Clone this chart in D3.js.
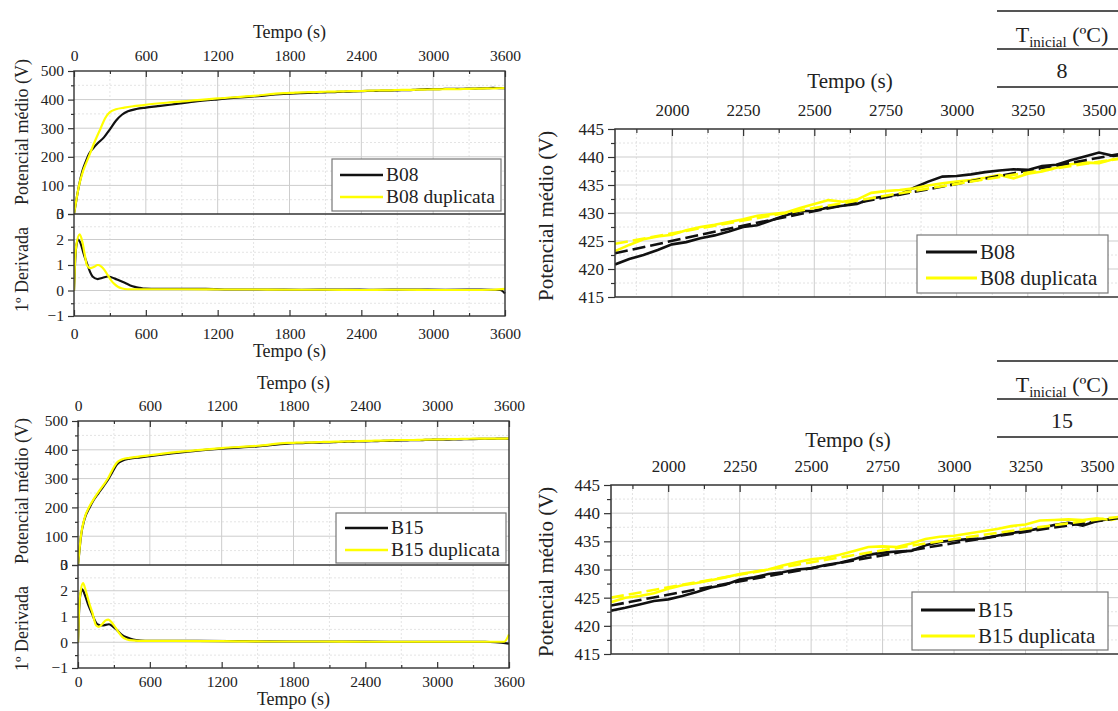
<!DOCTYPE html>
<html>
<head>
<meta charset="utf-8">
<script src="https://cdn.jsdelivr.net/npm/d3@7"></script>
<style>
  body { margin: 0; background: #fff; }
  svg { display: block; }
  text { font-family: "Liberation Serif", "Times New Roman", serif; fill: #222; }
</style>
</head>
<body>
<svg id="chart" width="1118" height="711"></svg>
<script>
// ---------- tick values ----------
const tempoTicksFull = [0, 600, 1200, 1800, 2400, 3000, 3600];
const tempoMinorFull = [300, 900, 1500, 2100, 2700, 3300];
const potTicksFull = [0, 100, 200, 300, 400, 500];
const potMinorFull = [50, 150, 250, 350, 450];
const derivTicks = [-1, 0, 1, 2, 3];
const derivMinor = [-0.5, 0.5, 1.5, 2.5];
const tempoTicksZoom = [2000, 2250, 2500, 2750, 3000, 3250, 3500];
const tempoMinorZoom = [1875, 2125, 2375, 2625, 2875, 3125, 3375, 3625];
const potTicksZoom = [415, 420, 425, 430, 435, 440, 445];
const potMinorZoom = [417.5, 422.5, 427.5, 432.5, 437.5, 442.5];

// ---------- series: first 30 min of the run, [tempo (s), potencial (V)] ----------
const b08Inicio = [[0,0],[20,50],[42,100],[70,150],[100,185],[125,210],[160,230],[200,248],[250,268],[300,296],[350,326],[400,347],[450,359],[520,367],[600,372],[700,377],[800,382],[1000,393],[1200,401],[1500,411],[1750,419.5]];
const b08dupInicio = [[0,0],[20,50],[42,100],[80,155],[123,200],[170,250],[223,300],[260,335],[300,356],[350,366],[420,372],[500,377],[600,382],[800,390],[1000,397],[1200,404],[1500,413],[1750,422.5]];
const b15Inicio = [[0,0],[12,50],[25,100],[55,160],[97,200],[130,225],[172,250],[215,275],[256,300],[290,325],[326,350],[370,362],[430,369],[520,374],[600,378],[800,388],[1000,397],[1200,404],[1500,412],[1750,421.7]];
const b15dupInicio = [[0,0],[12,52],[25,103],[55,163],[95,203],[130,228],[170,253],[212,277],[252,302],[287,330],[322,354],[365,366],[430,372],[520,377],[600,381],[800,391],[1000,399],[1200,406],[1500,414],[1750,423.8]];

// ---------- series: last 30 min, sampled every 50 s ----------
const tempoTardio = [1800,1850,1900,1950,2000,2050,2100,2150,2200,2250,2300,2350,2400,2450,2500,2550,2600,2650,2700,2750,2800,2850,2900,2950,3000,3050,3100,3150,3200,3250,3300,3350,3400,3450,3500,3550,3600];
const b08Tardio = [420.8,421.8,422.5,423.4,424.4,424.8,425.5,426.0,426.7,427.5,427.8,428.7,429.6,430.3,430.4,431.0,431.3,431.6,432.6,433.0,433.3,434.5,435.6,436.5,436.6,436.9,437.3,437.6,437.8,437.7,438.4,438.6,439.4,440.1,440.8,440.2,440.4];
const b08dupTardio = [423.2,424.3,425.3,425.8,426.1,426.9,427.5,427.9,428.4,428.9,429.5,429.8,430.1,430.9,431.6,432.3,432.0,432.4,433.6,433.9,434.1,434.4,434.9,435.3,435.6,435.9,436.3,436.8,436.2,437.0,437.4,438.1,438.7,439.0,438.9,439.6,439.8];
const b15Tardio = [422.7,423.2,423.8,424.4,424.7,425.3,426.0,426.8,427.3,428.2,428.6,429.2,429.5,430.0,430.2,430.8,431.2,431.8,432.6,433.0,433.2,433.3,434.3,434.9,435.2,435.4,435.5,436.0,436.5,436.8,437.3,437.9,438.3,437.8,438.6,439.0,439.1];
const b15dupTardio = [424.2,425.0,425.3,425.8,426.6,427.2,427.6,428.1,428.6,429.2,429.6,430.0,430.7,431.3,431.8,432.1,432.6,433.3,434.0,434.1,434.0,434.6,435.4,435.8,436.0,436.4,436.8,437.2,437.7,438.0,438.7,438.8,438.9,438.8,439.1,438.8,439.4];

// ---------- fitted trends (dashed) ----------
const ajusteTempo = [1800, 2400, 3000, 3600];
const b08Ajuste = [422.8, 429.3, 435.2, 440.8];
const b08dupAjuste = [424.5, 430.0, 435.2, 439.9];
const b15Ajuste = [423.6, 429.3, 434.7, 439.3];
const b15dupAjuste = [425.0, 430.4, 435.4, 439.5];

// ---------- first derivative, [tempo (s), dV/dt] ----------
const b08Derivada = [[0,0],[8,1.0],[18,1.7],[34,2.0],[55,1.85],[80,1.45],[113,1.0],[135,0.72],[155,0.55],[198,0.45],[240,0.5],[282,0.55],[311,0.52],[360,0.43],[424,0.3],[470,0.2],[508,0.14],[550,0.1],[593,0.07],[700,0.06],[900,0.06],[1100,0.06],[1300,0.04],[1600,0.04],[1900,0.03],[2200,0.04],[2500,0.03],[2800,0.04],[3100,0.03],[3400,0.04],[3560,0.02],[3600,-0.12]];
const b08dupDerivada = [[0,0],[8,1.1],[20,1.8],[48,2.2],[70,1.9],[90,1.4],[107,1.0],[136,0.88],[165,0.92],[198,1.0],[226,0.95],[255,0.8],[282,0.6],[310,0.4],[339,0.25],[370,0.14],[396,0.09],[450,0.05],[600,0.05],[900,0.05],[1200,0.04],[1500,0.04],[1800,0.03],[2100,0.03],[2400,0.02],[2700,0.03],[3000,0.02],[3300,0.02],[3500,0.03],[3600,0.06]];
const b15Derivada = [[0,0],[8,1.1],[18,1.8],[34,2.05],[60,1.8],[90,1.4],[118,1.1],[140,0.85],[161,0.7],[203,0.65],[259,0.7],[295,0.6],[330,0.45],[370,0.28],[400,0.2],[440,0.13],[485,0.08],[560,0.05],[700,0.05],[1000,0.05],[1400,0.04],[1800,0.03],[2200,0.03],[2600,0.02],[3000,0.02],[3400,0.02],[3600,-0.05]];
const b15dupDerivada = [[0,0],[8,1.2],[20,1.9],[42,2.3],[65,2.0],[95,1.5],[120,1.15],[152,0.65],[175,0.6],[205,0.72],[231,0.85],[254,0.88],[285,0.75],[316,0.55],[345,0.35],[372,0.2],[410,0.11],[457,0.07],[550,0.05],[800,0.05],[1200,0.04],[1600,0.03],[2000,0.03],[2400,0.02],[2800,0.02],[3200,0.02],[3560,0.02],[3600,0.3]];

const PRETO = "#111";
const AMARELO = "#ffff00";
const SERIF = '"Liberation Serif", "Times New Roman", serif';
const inteiro = d3.format("d");
const svg = d3.select("#chart");
let clipId = 0;

function pares(tempos, valores) { return tempos.map((t, i) => [t, valores[i]]); }

function clip(x0, y0, w, h) {
  const id = "clip" + (clipId++);
  svg.append("clipPath").attr("id", id).append("rect")
    .attr("x", x0).attr("y", y0).attr("width", w).attr("height", h);
  return "url(#" + id + ")";
}

function styleAxis(sel, size) {
  sel.attr("font-family", null);
  sel.select(".domain").remove();
  sel.selectAll(".tick line").attr("stroke", "#333").attr("stroke-width", 1.2);
  sel.selectAll(".tick text").style("font-family", SERIF)
    .style("font-size", size + "px").attr("fill", "#222");
}

function gridLines(g, xs, ys, x, y, box, color, dash) {
  const gg = g.append("g").attr("stroke", color).attr("stroke-width", 1);
  if (dash) gg.attr("stroke-dasharray", dash);
  gg.selectAll(null).data(xs).join("line")
    .attr("x1", d => x(d)).attr("x2", d => x(d)).attr("y1", box.y0).attr("y2", box.y1);
  gg.selectAll(null).data(ys).join("line")
    .attr("x1", box.x0).attr("x2", box.x1).attr("y1", d => y(d)).attr("y2", d => y(d));
}

function legenda(g, o, nomes, fs) {
  g.append("rect").attr("x", o.x).attr("y", o.y).attr("width", o.w).attr("height", o.h)
    .attr("fill", "#fff").attr("stroke", "#777").attr("stroke-width", 1.2);
  const cores = [PRETO, AMARELO];
  nomes.forEach((n, i) => {
    const yy = o.rows[i];
    g.append("line").attr("x1", o.lx0).attr("x2", o.lx1).attr("y1", yy).attr("y2", yy)
      .attr("stroke", cores[i]).attr("stroke-width", o.lw);
    g.append("text").attr("x", o.tx).attr("y", yy).attr("dy", "0.33em")
      .attr("font-size", fs).text(n);
  });
}

// ----- overview: potencial (upper) and its first derivative (lower) -----
function drawOverview(o) {
  const g = svg.append("g");
  const x = d3.scaleLinear().domain([0, 3600]).range([o.left, o.right]);
  const yP = d3.scaleLinear().domain([0, 500]).range([o.mid, o.top]);
  const yD = d3.scaleLinear().domain([-1, 3]).range([o.bottom, o.mid]);

  const boxU = { x0: o.left, x1: o.right, y0: o.top, y1: o.mid };
  const boxL = { x0: o.left, x1: o.right, y0: o.mid, y1: o.bottom };
  gridLines(g, tempoMinorFull, potMinorFull, x, yP, boxU, "#e4e4e4", "2,2");
  gridLines(g, tempoMinorFull, derivMinor, x, yD, boxL, "#e4e4e4", "2,2");
  gridLines(g, [600, 1200, 1800, 2400, 3000], [100, 200, 300, 400], x, yP, boxU, "#cdcdcd");
  gridLines(g, [], [0, 1, 2], x, yD, boxL, "#cdcdcd");

  // curves
  const lineP = d3.line().x(d => x(d[0])).y(d => yP(d[1])).curve(d3.curveMonotoneX);
  const lineD = d3.line().x(d => x(d[0])).y(d => yD(d[1])).curve(d3.curveMonotoneX);
  const cU = clip(o.left, o.top, o.right - o.left, o.mid - o.top + 1);
  const cL = clip(o.left, o.mid, o.right - o.left + 2, o.bottom - o.mid);
  [o.preto, o.amarelo].forEach((s, i) => {
    g.append("path").attr("clip-path", cU).attr("d", lineP(s))
      .attr("fill", "none").attr("stroke", i ? AMARELO : PRETO).attr("stroke-width", 2.2);
  });
  [o.derivPreto, o.derivAmarelo].forEach((s, i) => {
    g.append("path").attr("clip-path", cL).attr("d", lineD(s))
      .attr("fill", "none").attr("stroke", i ? AMARELO : PRETO).attr("stroke-width", 2.2);
  });

  // frame and panel divider
  g.append("rect").attr("x", o.left).attr("y", o.top).attr("width", o.right - o.left)
    .attr("height", o.bottom - o.top).attr("fill", "none").attr("stroke", "#333").attr("stroke-width", 1.4);
  g.append("line").attr("x1", o.left).attr("x2", o.right).attr("y1", o.mid).attr("y2", o.mid)
    .attr("stroke", "#333").attr("stroke-width", 1.6);

  // axes
  const fs = 15.5;
  styleAxis(g.append("g").attr("transform", `translate(0,${o.top})`)
    .call(d3.axisTop(x).tickValues(tempoTicksFull).tickFormat(inteiro).tickSizeInner(-6).tickSizeOuter(0).tickPadding(10)), fs);
  styleAxis(g.append("g").attr("transform", `translate(0,${o.top})`)
    .call(d3.axisTop(x).tickValues(tempoMinorFull).tickSizeInner(-3).tickSizeOuter(0).tickFormat("")), fs);
  styleAxis(g.append("g").attr("transform", `translate(0,${o.bottom})`)
    .call(d3.axisBottom(x).tickValues(tempoTicksFull).tickFormat(inteiro).tickSizeInner(-6).tickSizeOuter(0).tickPadding(o.padBottom)), fs);
  styleAxis(g.append("g").attr("transform", `translate(0,${o.bottom})`)
    .call(d3.axisBottom(x).tickValues(tempoMinorFull).tickSizeInner(-3).tickSizeOuter(0).tickFormat("")), fs);
  styleAxis(g.append("g").attr("transform", `translate(${o.left},0)`)
    .call(d3.axisLeft(yP).tickValues(potTicksFull).tickFormat(inteiro).tickSizeInner(6).tickSizeOuter(0).tickPadding(4)), fs);
  styleAxis(g.append("g").attr("transform", `translate(${o.left},0)`)
    .call(d3.axisLeft(yP).tickValues(potMinorFull).tickSizeInner(3).tickSizeOuter(0).tickFormat("")), fs);
  styleAxis(g.append("g").attr("transform", `translate(${o.left},0)`)
    .call(d3.axisLeft(yD).tickValues(derivTicks).tickFormat(inteiro).tickSizeInner(6).tickSizeOuter(0).tickPadding(4)), fs);
  styleAxis(g.append("g").attr("transform", `translate(${o.left},0)`)
    .call(d3.axisLeft(yD).tickValues(derivMinor).tickSizeInner(3).tickSizeOuter(0).tickFormat("")), fs);

  // titles
  const cx = (o.left + o.right) / 2;
  g.append("text").attr("x", cx).attr("y", o.titleTop).attr("text-anchor", "middle")
    .attr("font-size", 18).text("Tempo (s)");
  g.append("text").attr("x", cx).attr("y", o.titleBottom).attr("text-anchor", "middle")
    .attr("font-size", 18).text("Tempo (s)");
  g.append("text").attr("transform", `translate(28,${o.potStart}) rotate(-90)`)
    .attr("font-size", 18).text("Potencial médio (V)");
  g.append("text").attr("transform", `translate(28,${o.derivStart}) rotate(-90)`)
    .attr("font-size", 18).text("1º Derivada");

  legenda(g, o.leg, o.nomes, 19.5);
}

// ----- detail: 1800 s onward, with fitted trends -----
function drawZoom(o) {
  const g = svg.append("g");
  const x = d3.scaleLinear().domain([1800, 3500]).range([o.left, o.x3500]);
  const y = d3.scaleLinear().domain([415, 445]).range([o.bottom, o.top]);
  const right = x(3600);
  const box = { x0: o.left, x1: right, y0: o.top, y1: o.bottom };
  gridLines(g, tempoMinorZoom, potMinorZoom, x, y, box, "#e2e2e2", "2,2");
  gridLines(g, tempoTicksZoom, [420, 425, 430, 435, 440], x, y, box, "#cdcdcd");

  const line = d3.line().x(d => x(d[0])).y(d => y(d[1]));
  const fit = d3.line().x(d => x(d[0])).y(d => y(d[1])).curve(d3.curveMonotoneX);
  const c = clip(o.left, o.top, right - o.left, o.bottom - o.top);
  g.append("path").attr("clip-path", c).attr("d", line(pares(tempoTardio, o.preto)))
    .attr("fill", "none").attr("stroke", PRETO).attr("stroke-width", 2.6);
  g.append("path").attr("clip-path", c).attr("d", line(pares(tempoTardio, o.amarelo)))
    .attr("fill", "none").attr("stroke", AMARELO).attr("stroke-width", 2.6);
  g.append("path").attr("clip-path", c).attr("d", fit(pares(ajusteTempo, o.ajustePreto)))
    .attr("fill", "none").attr("stroke", PRETO).attr("stroke-width", 2.6).attr("stroke-dasharray", "13,5");
  g.append("path").attr("clip-path", c).attr("d", fit(pares(ajusteTempo, o.ajusteAmarelo)))
    .attr("fill", "none").attr("stroke", AMARELO).attr("stroke-width", 2.6).attr("stroke-dasharray", "13,5");

  // frame (right edge lies beyond the page)
  g.append("path").attr("d", `M${right},${o.top}H${o.left}V${o.bottom}H${right}`)
    .attr("fill", "none").attr("stroke", "#333").attr("stroke-width", 1.5);

  const fs = 17;
  styleAxis(g.append("g").attr("transform", `translate(0,${o.top})`)
    .call(d3.axisTop(x).tickValues(tempoTicksZoom).tickFormat(inteiro).tickSizeInner(-7).tickSizeOuter(0).tickPadding(13)), fs);
  styleAxis(g.append("g").attr("transform", `translate(0,${o.top})`)
    .call(d3.axisTop(x).tickValues(tempoMinorZoom).tickSizeInner(-4).tickSizeOuter(0).tickFormat("")), fs);
  styleAxis(g.append("g").attr("transform", `translate(${o.left},0)`)
    .call(d3.axisLeft(y).tickValues(potTicksZoom).tickFormat(inteiro).tickSizeInner(7).tickSizeOuter(0).tickPadding(4)), fs);
  styleAxis(g.append("g").attr("transform", `translate(${o.left},0)`)
    .call(d3.axisLeft(y).tickValues(potMinorZoom).tickSizeInner(4).tickSizeOuter(0).tickFormat("")), fs);

  g.append("text").attr("x", o.titleX).attr("y", o.titleY).attr("text-anchor", "middle")
    .attr("font-size", 21).text("Tempo (s)");
  g.append("text").attr("transform", `translate(553,${o.potStart}) rotate(-90)`)
    .attr("font-size", 21).text("Potencial médio (V)");

  legenda(g, o.leg, o.nomes, 21);

  // initial temperature table
  const t = o.tabela;
  [t.y0, t.y1, t.y2].forEach(yy => g.append("line").attr("x1", 997).attr("x2", 1118)
    .attr("y1", yy).attr("y2", yy).attr("stroke", "#555").attr("stroke-width", 2));
  const head = g.append("text").attr("x", 1062).attr("y", t.y0 + 31).attr("text-anchor", "middle")
    .attr("font-size", 22);
  head.append("tspan").text("T");
  head.append("tspan").attr("font-size", 15).attr("dy", 5).text("inicial");
  head.append("tspan").attr("dy", -5).text(" (ºC)");
  g.append("text").attr("x", 1062).attr("y", t.y1 + 29).attr("text-anchor", "middle")
    .attr("font-size", 22).text(t.valor);
}

drawOverview({
  left: 74, right: 505, top: 71, mid: 214, bottom: 316, padBottom: 12,
  titleTop: 38, titleBottom: 357, potStart: 205, derivStart: 312,
  preto: b08Inicio.concat(pares(tempoTardio, b08Tardio)),
  amarelo: b08dupInicio.concat(pares(tempoTardio, b08dupTardio)),
  derivPreto: b08Derivada, derivAmarelo: b08dupDerivada,
  nomes: ["B08", "B08 duplicata"],
  leg: { x: 332, y: 159, w: 169, h: 52, rows: [175, 197], lx0: 340, lx1: 383, tx: 386, lw: 2.4 }
});

drawOverview({
  left: 78, right: 509, top: 421, mid: 565, bottom: 668, padBottom: 8,
  titleTop: 389, titleBottom: 705, potStart: 564, derivStart: 671,
  preto: b15Inicio.concat(pares(tempoTardio, b15Tardio)),
  amarelo: b15dupInicio.concat(pares(tempoTardio, b15dupTardio)),
  derivPreto: b15Derivada, derivAmarelo: b15dupDerivada,
  nomes: ["B15", "B15 duplicata"],
  leg: { x: 336, y: 513, w: 170, h: 50, rows: [528, 550], lx0: 345, lx1: 388, tx: 391, lw: 2.4 }
});

drawZoom({
  left: 615, x3500: 1099, top: 129, bottom: 297,
  titleX: 850, titleY: 88, potStart: 301,
  preto: b08Tardio, amarelo: b08dupTardio, ajustePreto: b08Ajuste, ajusteAmarelo: b08dupAjuste,
  nomes: ["B08", "B08 duplicata"],
  leg: { x: 917, y: 235, w: 191, h: 58, rows: [252, 278], lx0: 926, lx1: 977, tx: 980, lw: 2.8 },
  tabela: { y0: 11, y1: 49, y2: 87, valor: "8" }
});

drawZoom({
  left: 611, x3500: 1097, top: 485, bottom: 654,
  titleX: 848, titleY: 447, potStart: 657,
  preto: b15Tardio, amarelo: b15dupTardio, ajustePreto: b15Ajuste, ajusteAmarelo: b15dupAjuste,
  nomes: ["B15", "B15 duplicata"],
  leg: { x: 912, y: 592, w: 196, h: 58, rows: [610, 636], lx0: 921, lx1: 975, tx: 978, lw: 2.8 },
  tabela: { y0: 361, y1: 399, y2: 437, valor: "15" }
});
</script>
</body>
</html>
